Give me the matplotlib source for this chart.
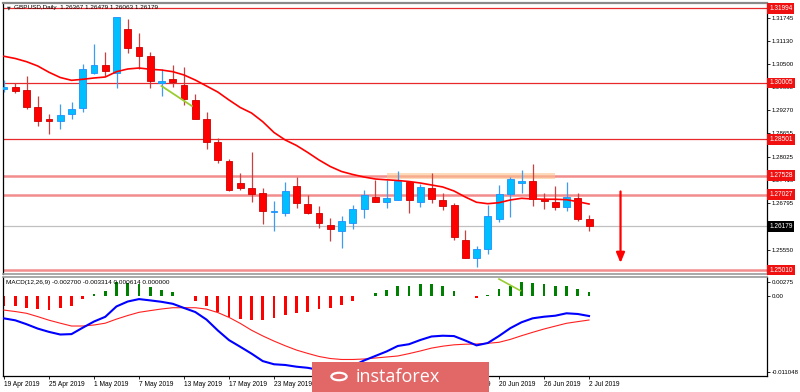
import matplotlib
matplotlib.use('Agg')
import matplotlib.pyplot as plt
from matplotlib.patches import Rectangle, Circle
import numpy as np

plt.rcParams['font.family'] = ['Liberation Sans', 'DejaVu Sans']

# ---------------- data ----------------
date_labels = ['19 Apr 2019', '25 Apr 2019', '1 May 2019', '7 May 2019', '13 May 2019',
               '17 May 2019', '23 May 2019', '29 May 2019', '4 Jun 2019', '10 Jun 2019',
               '14 Jun 2019', '20 Jun 2019', '26 Jun 2019', '2 Jul 2019']
date_label_bars = [0, 4, 8, 12, 16, 20, 24, 28, 32, 36, 40, 44, 48, 52]

opens = [1.29833, 1.29903, 1.29815, 1.29361, 1.29033, 1.28980, 1.29175, 1.29327, 1.30276, 1.30473,
         1.30276, 1.31442, 1.30954, 1.30722, 1.30009, 1.30108, 1.29948, 1.29556, 1.29049, 1.28428,
         1.27921, 1.27342, 1.27209, 1.27068, 1.26561, 1.26542, 1.27254, 1.26774, 1.26526, 1.26214,
         1.26046, 1.26268, 1.26649, 1.26961, 1.26836, 1.26889, 1.27353, 1.26836, 1.27193, 1.26873,
         1.26748, 1.25814, 1.25334, 1.25566, 1.26382, 1.27033, 1.27342, 1.27380, 1.26900, 1.26828,
         1.26686, 1.26942, 1.26367]
highs = [1.30081, 1.29993, 1.30188, 1.29655, 1.29175, 1.29441, 1.29487, 1.30500, 1.31034, 1.30820,
         1.31754, 1.31708, 1.31327, 1.30820, 1.30367, 1.30481, 1.30420, 1.29700, 1.29228, 1.28543,
         1.27983, 1.27593, 1.28153, 1.27193, 1.26846, 1.27353, 1.27502, 1.27014, 1.26721, 1.26393,
         1.26454, 1.26748, 1.27148, 1.27414, 1.27414, 1.27654, 1.27353, 1.27308, 1.27593, 1.27076,
         1.26809, 1.26073, 1.25662, 1.26748, 1.27273, 1.27486, 1.27681, 1.27849, 1.27076, 1.27254,
         1.27353, 1.27060, 1.26479]
lows = [1.29761, 1.29743, 1.29300, 1.28863, 1.28649, 1.28767, 1.29041, 1.29236, 1.30241, 1.30188,
        1.29876, 1.30793, 1.30375, 1.29860, 1.29663, 1.29903, 1.29407, 1.29041, 1.28249, 1.27868,
        1.27129, 1.27140, 1.26836, 1.26241, 1.26062, 1.26454, 1.26660, 1.26500, 1.26126, 1.25796,
        1.25593, 1.26100, 1.26409, 1.26820, 1.26676, 1.26873, 1.26526, 1.26702, 1.26809, 1.26622,
        1.25806, 1.25334, 1.25086, 1.25433, 1.26286, 1.26420, 1.27076, 1.26721, 1.26633, 1.26606,
        1.26588, 1.26321, 1.26063]
closes = [1.29887, 1.29796, 1.29353, 1.28988, 1.28980, 1.29148, 1.29308, 1.30367, 1.30489, 1.30321,
          1.31754, 1.30943, 1.30730, 1.30063, 1.30055, 1.30028, 1.29575, 1.29041, 1.28420, 1.27948,
          1.27156, 1.27209, 1.27049, 1.26596, 1.26596, 1.27121, 1.26793, 1.26526, 1.26276, 1.26100,
          1.26313, 1.26641, 1.27006, 1.26820, 1.26934, 1.27388, 1.26873, 1.27228, 1.26900, 1.26729,
          1.25902, 1.25334, 1.25574, 1.26446, 1.27033, 1.27441, 1.27396, 1.26900, 1.26846, 1.26702,
          1.26961, 1.26382, 1.26179]
ma_line = [1.30714, 1.30655, 1.30570, 1.30455, 1.30287, 1.30148, 1.30073, 1.30100, 1.30135, 1.30161,
           1.30303, 1.30375, 1.30401, 1.30367, 1.30348, 1.30303, 1.30215, 1.30081, 1.29921, 1.29761,
           1.29548, 1.29348, 1.29201, 1.28969, 1.28681, 1.28481, 1.28335, 1.28148, 1.27948, 1.27774,
           1.27641, 1.27561, 1.27494, 1.27441, 1.27420, 1.27401, 1.27374, 1.27334, 1.27281, 1.27228,
           1.27121, 1.26961, 1.26820, 1.26782, 1.26809, 1.26881, 1.26926, 1.26908, 1.26902, 1.26900,
           1.26889, 1.26836, 1.26774]

macd_hist = [-0.00188, -0.00200, -0.00228, -0.00253, -0.00273, -0.00239, -0.00194, -0.00049, 0.00044, 0.00109,
             0.00275, 0.00255, 0.00241, 0.00188, 0.00123, 0.00089, 0.00010, -0.00095, -0.00194, -0.00307,
             -0.00417, -0.00451, -0.00471, -0.00471, -0.00437, -0.00372, -0.00338, -0.00307, -0.00253, -0.00239,
             -0.00174, -0.00089, 0.00010, 0.00057, 0.00123, 0.00202, 0.00202, 0.00241, 0.00235, 0.00208,
             0.00103, 0.00010, -0.00042, 0.00024, 0.00142, 0.00202, 0.00287, 0.00267, 0.00241, 0.00202,
             0.00202, 0.00142, 0.00089]
macd_main = [-0.00439, -0.00477, -0.00554, -0.00641, -0.00706, -0.00758, -0.00750, -0.00623, -0.00501, -0.00408,
             -0.00202, -0.00105, -0.00057, -0.00083, -0.00111, -0.00150, -0.00233, -0.00313, -0.00463, -0.00677,
             -0.00869, -0.01001, -0.01136, -0.01284, -0.01347, -0.01361, -0.01395, -0.01417, -0.01460, -0.01480,
             -0.01460, -0.01381, -0.01272, -0.01183, -0.01094, -0.00985, -0.00950, -0.00867, -0.00797, -0.00782,
             -0.00789, -0.00877, -0.00973, -0.00926, -0.00787, -0.00633, -0.00516, -0.00437, -0.00406, -0.00386,
             -0.00338, -0.00352, -0.00392]
macd_signal = [-0.00275, -0.00303, -0.00338, -0.00404, -0.00475, -0.00534, -0.00590, -0.00590, -0.00570, -0.00534,
               -0.00453, -0.00382, -0.00319, -0.00285, -0.00253, -0.00228, -0.00228, -0.00228, -0.00255, -0.00323,
               -0.00419, -0.00538, -0.00673, -0.00786, -0.00888, -0.00981, -0.01066, -0.01132, -0.01193, -0.01233,
               -0.01252, -0.01252, -0.01243, -0.01223, -0.01203, -0.01183, -0.01136, -0.01084, -0.01027, -0.00989,
               -0.00962, -0.00950, -0.00946, -0.00932, -0.00912, -0.00855, -0.00782, -0.00714, -0.00649, -0.00592,
               -0.00536, -0.00503, -0.00471]

price_ticks = [1.31745, 1.31130, 1.30500, 1.29885, 1.29270, 1.28655, 1.28025, 1.27410,
               1.26795, 1.25550, 1.24935]
price_tick_labels = ['1.31745', '1.31130', '1.30500', '1.29885', '1.29270', '1.28655', '1.28025',
                     '1.27410', '1.26795', '1.25550', '1.24935']
levels_red = [1.31994, 1.30005, 1.28501]
levels_pink = [1.27528, 1.27027, 1.25010]
current_price = 1.26179
macd_tick_vals = [0.00275, 0.0, -0.0149]
macd_tick_labels = ['0.00275', '0.00', '-0.011048']

title_text = 'GBPUSD,Daily  1.26367 1.26479 1.26063 1.26179'
macd_text = 'MACD(12,26,9) -0.002700 -0.003314 0.000614 0.000000'

# zone / drawings
zone_bars = (34, 49)
zone_prices = (1.27433, 1.27593)
trend_main = ([14.0, 16.7], [1.29921, 1.29388])
trend_macd = ([44.0, 45.9], [0.00340, 0.00109])
arrow_bar = 54.8
arrow_prices = (1.27108, 1.25201)

# ---------------- figure ----------------
W, H = 800, 392
fig = plt.figure(figsize=(W / 100, H / 100), dpi=100)
fig.patch.set_facecolor('white')

def fx(px):
    return px / W

def fy(py):
    return 1 - py / H

ax = fig.add_axes([fx(3), fy(274), fx(767) - fx(3), fy(3) - fy(274)])
ax2 = fig.add_axes([fx(3), fy(376), fx(767) - fx(3), fy(277) - fy(376)], sharex=ax)

n = len(opens)
xs = np.arange(n)
ax.set_xlim(-0.089, 67.82)
ax.set_ylim(1.24907, 1.32135)

fs = 4.4

# horizontal levels
for lv in levels_red:
    ax.axhline(lv, color='#E8292B', lw=0.9, zorder=1)
for lv in levels_pink:
    ax.axhline(lv, color='#F38C8C', lw=1.8, zorder=1)
ax.axhline(current_price, color='#C0C0C0', lw=0.9, zorder=1)

# zone
ax.add_patch(Rectangle((zone_bars[0], zone_prices[0]), zone_bars[1] - zone_bars[0],
                       zone_prices[1] - zone_prices[0], facecolor='#FBC38F', alpha=0.6,
                       edgecolor='none', zorder=2))

# candles
bw = 0.62
for i in range(n):
    o, h, l, c = opens[i], highs[i], lows[i], closes[i]
    bull = c >= o
    wick_c = '#3D9BF0' if bull else '#C84040'
    ax.vlines(xs[i], l, h, color=wick_c, lw=0.9, zorder=3)
    body_c = '#00BFFF' if bull else '#FF0000'
    edge_c = '#1E90FF' if bull else '#D00000'
    bottom = min(o, c)
    height = max(abs(c - o), 0.00005)
    ax.bar(xs[i], height, bw, bottom=bottom, color=body_c, edgecolor=edge_c,
           linewidth=0.6, zorder=4)

# moving average
ax.plot(xs, ma_line, color='#FF0000', lw=1.2, zorder=5)

# trend line and arrow
ax.plot(trend_main[0], trend_main[1], color='#9ACD32', lw=1.3, zorder=6)
ax.annotate('', xy=(arrow_bar, arrow_prices[1]), xytext=(arrow_bar, arrow_prices[0]),
            arrowprops=dict(arrowstyle='-|>,head_width=0.25,head_length=0.6',
                            color='#FF0000', lw=1.6, shrinkA=0, shrinkB=0), zorder=6)

# y axis on the right
ax.yaxis.tick_right()
ax.set_yticks(price_ticks)
ax.set_yticklabels(price_tick_labels)
ax.tick_params(axis='y', length=2, width=0.6, pad=1.5, labelsize=fs, colors='black')
ax.tick_params(axis='x', bottom=False, labelbottom=False)

for sp in ['left', 'right']:
    ax.spines[sp].set_color('black')
    ax.spines[sp].set_linewidth(0.9)
ax.spines['top'].set_color('#8A8A8A')
ax.spines['top'].set_linewidth(1.6)
ax.spines['bottom'].set_color('#9A9A9A')
ax.spines['bottom'].set_linewidth(1.2)

# level labels
def level_label(axis, y, text, fc):
    axis.annotate(text, xy=(1.0, y), xycoords=('axes fraction', 'data'),
                  xytext=(1.6, 0), textcoords='offset points', ha='left', va='center',
                  fontsize=fs + 0.3, color='white', zorder=20, annotation_clip=False,
                  bbox=dict(boxstyle='square,pad=0.28', fc=fc, ec=fc, lw=0))

for lv in levels_red + levels_pink:
    level_label(ax, lv, f'{lv:.5f}', '#F01010')
level_label(ax, current_price, f'{current_price:.5f}', '#000000')

# title
ax.text(0.005, 0.982, '▼', transform=ax.transAxes, fontsize=3.5, va='center', ha='left',
        color='#333333', family=['DejaVu Sans'])
ax.text(0.014, 0.982, title_text, transform=ax.transAxes, fontsize=fs + 0.2, va='center',
        ha='left', color='black')

# ---------------- MACD panel ----------------
ax2.set_ylim(-0.01579, 0.00380)
hist_colors = ['#008000' if v >= 0 else '#FF0000' for v in macd_hist]
ax2.bar(xs, macd_hist, 0.24, color=hist_colors, zorder=2)
ax2.plot(xs, macd_signal, color='#FF2020', lw=0.8, zorder=3)
ax2.plot(xs, macd_main, color='#0000FF', lw=1.5, zorder=4)
ax2.plot(trend_macd[0], trend_macd[1], color='#9ACD32', lw=1.2, zorder=5)

ax2.yaxis.tick_right()
ax2.set_yticks(macd_tick_vals)
ax2.set_yticklabels(macd_tick_labels)
ax2.tick_params(axis='y', length=2, width=0.6, pad=1.5, labelsize=fs, colors='black')

ax2.set_xticks(date_label_bars)
ax2.set_xticklabels(date_labels)
ax2.tick_params(axis='x', length=2.5, width=0.6, pad=1.2, labelsize=fs + 0.4, colors='black')
for lab in ax2.get_xticklabels():
    lab.set_horizontalalignment('left')

for sp in ['left', 'right', 'bottom']:
    ax2.spines[sp].set_color('black')
    ax2.spines[sp].set_linewidth(0.9)
ax2.spines['top'].set_color('#9A9A9A')
ax2.spines['top'].set_linewidth(1.2)

ax2.text(0.004, 0.945, macd_text, transform=ax2.transAxes, fontsize=fs + 0.2, va='center',
         ha='left', color='black', zorder=10)

# watermark
fig.patches.append(Rectangle((fx(312), 0), fx(489) - fx(312), fy(361.7), transform=fig.transFigure,
                             facecolor='#E26868', edgecolor='none', zorder=50))
fig.patches.append(Circle((fx(339), fy(376.5)), 0.0095, transform=fig.transFigure,
                          facecolor='none', edgecolor='white', lw=1.6, zorder=51))
fig.text(fx(356), fy(382.5), 'instaforex', color='white', fontsize=13, family=['Open Sans', 'DejaVu Sans'],
         ha='left', va='baseline', zorder=52)

fig.savefig('out.png', dpi=100)
